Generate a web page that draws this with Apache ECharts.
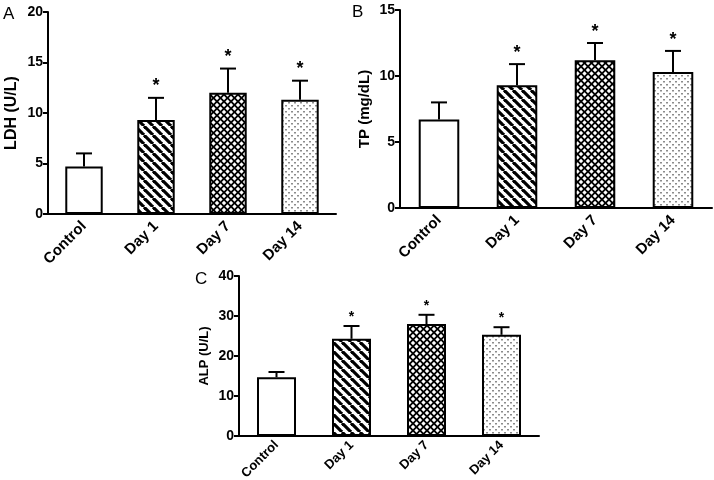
<!DOCTYPE html>
<html>
<head>
<meta charset="utf-8">
<script src="https://cdn.jsdelivr.net/npm/echarts@6/dist/echarts.min.js"></script>
<style>html,body{margin:0;padding:0;background:#fff}#c{width:714px;height:480px}</style>
</head>
<body>
<div id="c"></div>
<script>
// ---- data ----
const categories = ['Control', 'Day 1', 'Day 7', 'Day 14'];
const ldhMean = [4.7, 9.3, 12.0, 11.3];
const ldhUpper = [6.0, 11.5, 14.4, 13.2];
const tpMean = [6.7, 9.3, 11.2, 10.3];
const tpUpper = [8.0, 10.9, 12.5, 11.9];
const alpMean = [14.7, 24.3, 28.0, 25.3];
const alpUpper = [16.0, 27.5, 30.3, 27.2];
const signif = ['', '*', '*', '*'];
const ldhTicks = {min: 0, max: 20, interval: 5};
const tpTicks = {min: 0, max: 15, interval: 5};
const alpTicks = {min: 0, max: 40, interval: 10};

// ---- fill patterns ----
function tile(w, h, draw) {
  const c = document.createElement('canvas');
  c.width = w; c.height = h;
  draw(c.getContext('2d'));
  return {image: c, repeat: 'repeat'};
}
const stripe = tile(9, 9, ctx => {
  ctx.fillStyle = '#fff'; ctx.fillRect(0, 0, 9, 9);
  ctx.strokeStyle = '#000'; ctx.lineWidth = 3.2;
  [-9, 0, 9].forEach(c => { ctx.beginPath(); ctx.moveTo(c, 0); ctx.lineTo(c + 9, 9); ctx.stroke(); });
});
const cross = tile(7, 7, ctx => {
  ctx.fillStyle = '#000'; ctx.fillRect(0, 0, 7, 7);
  ctx.fillStyle = '#fff';
  const d = 2.2;
  [[3.5, 3.5], [0, 0], [7, 0], [0, 7], [7, 7]].forEach(([x, y]) => {
    ctx.beginPath(); ctx.moveTo(x - d, y); ctx.lineTo(x, y - d); ctx.lineTo(x + d, y); ctx.lineTo(x, y + d); ctx.closePath(); ctx.fill();
  });
});
const dots = tile(6, 6, ctx => {
  ctx.fillStyle = '#fff'; ctx.fillRect(0, 0, 6, 6);
  ctx.fillStyle = '#8c8c8c';
  ctx.fillRect(0, 0, 2, 1.5); ctx.fillRect(3, 3, 2, 1.5);
});
const fills = ['#ffffff', stripe, cross, dots];

const FONT = 'Liberation Sans';

function xAx(gi, fs, margin) {
  return {
    type: 'category', gridIndex: gi, data: categories,
    axisLine: {lineStyle: {color: '#000', width: 2}},
    axisTick: {alignWithLabel: true, length: 5, lineStyle: {color: '#000', width: 2}},
    axisLabel: {rotate: 45, color: '#000', fontWeight: 'bold', fontSize: fs, fontFamily: FONT, margin: margin},
    splitLine: {show: false}
  };
}
function yAx(gi, t, name, gap, fs, nfs) {
  return {
    type: 'value', gridIndex: gi, min: t.min, max: t.max, interval: t.interval,
    name: name, nameLocation: 'middle', nameGap: gap,
    nameTextStyle: {color: '#000', fontWeight: 'bold', fontSize: nfs, fontFamily: FONT},
    axisLine: {show: true, lineStyle: {color: '#000', width: 2}},
    axisTick: {show: true, length: 5, lineStyle: {color: '#000', width: 2}},
    axisLabel: {color: '#000', fontWeight: 'bold', fontSize: fs, fontFamily: FONT, margin: 5},
    splitLine: {show: false}
  };
}
function bars(gi, mean) {
  return {
    type: 'bar', xAxisIndex: gi, yAxisIndex: gi, barWidth: '52%',
    data: mean.map((v, i) => ({value: v, itemStyle: {color: fills[i]}})),
    itemStyle: {borderColor: '#000', borderWidth: 2},
    silent: true, animation: false
  };
}
function errs(gi, mean, upper, starSize, starGap) {
  return {
    type: 'custom', xAxisIndex: gi, yAxisIndex: gi, z: 5, animation: false, silent: true,
    data: mean.map((m, i) => [i, m, upper[i]]),
    renderItem: function (params, api) {
      const i = api.value(0);
      const p0 = api.coord([i, api.value(1)]);
      const p1 = api.coord([i, api.value(2)]);
      const half = 8;
      const children = [
        {type: 'line', shape: {x1: p0[0], y1: p0[1], x2: p1[0], y2: p1[1]}, style: {stroke: '#000', lineWidth: 2}},
        {type: 'line', shape: {x1: p1[0] - half, y1: p1[1], x2: p1[0] + half, y2: p1[1]}, style: {stroke: '#000', lineWidth: 2}}
      ];
      const s = signif[params.dataIndex];
      if (s) {
        children.push({type: 'text', x: p1[0], y: p1[1] - starGap,
          style: {text: s, fill: '#000', font: 'bold ' + starSize + 'px ' + FONT, align: 'center', verticalAlign: 'middle'}});
      }
      return {type: 'group', children: children};
    }
  };
}

const chart = echarts.init(document.getElementById('c'), null, {renderer: 'canvas'});
chart.setOption({
  backgroundColor: '#fff',
  animation: false,
  title: [
    {text: 'A', left: 3, top: 6, padding: 0, textStyle: {fontSize: 17, fontWeight: 'normal', fontFamily: FONT, color: '#000'}},
    {text: 'B', left: 352, top: 4, padding: 0, textStyle: {fontSize: 17, fontWeight: 'normal', fontFamily: FONT, color: '#000'}},
    {text: 'C', left: 195, top: 271, padding: 0, textStyle: {fontSize: 17, fontWeight: 'normal', fontFamily: FONT, color: '#000'}}
  ],
  grid: [
    {left: 48, top: 12, width: 288, height: 202, containLabel: false, outerBoundsMode: 'none'},
    {left: 400, top: 10, width: 312, height: 198, containLabel: false, outerBoundsMode: 'none'},
    {left: 239, top: 276, width: 300, height: 160, containLabel: false, outerBoundsMode: 'none'}
  ],
  xAxis: [xAx(0, 15, 10), xAx(1, 15, 10), xAx(2, 13, 7)],
  yAxis: [
    yAx(0, ldhTicks, 'LDH (U/L)', 28, 14, 16),
    yAx(1, tpTicks, 'TP (mg/dL)', 28, 14, 15),
    yAx(2, alpTicks, 'ALP (U/L)', 28, 14, 13)
  ],
  series: [
    bars(0, ldhMean), errs(0, ldhMean, ldhUpper, 18, 12),
    bars(1, tpMean), errs(1, tpMean, tpUpper, 18, 11),
    bars(2, alpMean), errs(2, alpMean, alpUpper, 14, 9)
  ]
});
</script>
</body>
</html>
